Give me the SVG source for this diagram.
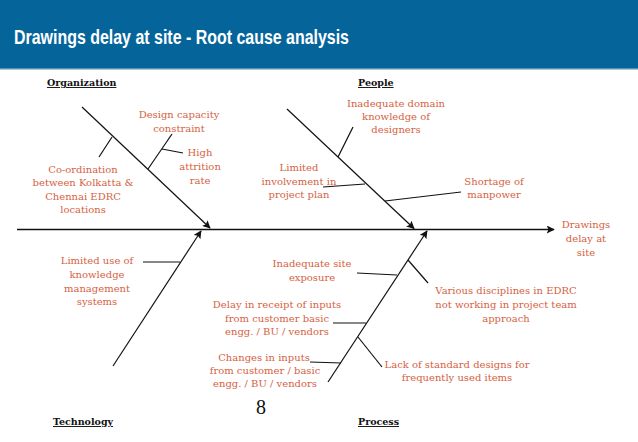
<svg xmlns="http://www.w3.org/2000/svg" width="638" height="442" viewBox="0 0 638 442">
<style>
.t{font-family:"DejaVu Serif","Liberation Serif",serif;font-size:10px;fill:#D5623F;text-anchor:middle}
.h{font-family:"DejaVu Serif","Liberation Serif",serif;font-size:9.5px;font-weight:bold;fill:#111;text-decoration:underline}
.l{stroke:#111;stroke-width:1.2;fill:none}
.a{stroke:#111;stroke-width:1.2;fill:none;marker-end:url(#ar)}
</style>
<defs>
<marker id="ar" viewBox="0 0 10 10" refX="9" refY="5" markerWidth="9" markerHeight="8" markerUnits="userSpaceOnUse" orient="auto">
<path d="M0,0 L10,5 L0,10 L2,5 Z" fill="#111"/>
</marker>
</defs>
<rect width="638" height="442" fill="#fff"/>
<g id="header">
<rect x="0" y="0" width="638" height="68" fill="#05659B"/>
<rect x="0" y="68" width="638" height="1.5" fill="#5A8FB5"/>
<text x="14" y="44" font-family="Liberation Sans,Arial,sans-serif" font-size="20.5" font-weight="bold" fill="#fff" textLength="335" lengthAdjust="spacingAndGlyphs">Drawings delay at site - Root cause analysis</text>
</g>
<g id="connectors">
<line class="a" x1="17" y1="229.5" x2="554" y2="229.5" style="stroke-width:1.5"/>
<line class="a" x1="82" y1="107" x2="210" y2="228"/>
<line class="a" x1="287" y1="109" x2="414" y2="228.5"/>
<line class="a" x1="113" y1="366" x2="201" y2="231"/>
<line class="a" x1="328" y1="382" x2="427" y2="231"/>
<line class="l" x1="112" y1="137" x2="99" y2="157"/>
<line class="l" x1="148" y1="169" x2="172" y2="134"/>
<line class="l" x1="162" y1="149" x2="183" y2="153"/>
<line class="l" x1="338" y1="157" x2="353" y2="127"/>
<line class="l" x1="365" y1="184" x2="323" y2="187"/>
<line class="l" x1="385" y1="201" x2="461" y2="192"/>
<line class="l" x1="143" y1="262" x2="180" y2="262"/>
<line class="l" x1="357" y1="273" x2="397" y2="275"/>
<line class="l" x1="408" y1="260" x2="428" y2="283"/>
<line class="l" x1="333" y1="323" x2="366" y2="323"/>
<line class="l" x1="358" y1="337" x2="382" y2="367"/>
<line class="l" x1="310" y1="362" x2="341" y2="363"/>
</g>
<g id="cat-organization"><text class="h" x="47" y="86">Organization</text></g>
<g id="cat-people"><text class="h" x="358" y="86">People</text></g>
<g id="cat-technology"><text class="h" x="53" y="425">Technology</text></g>
<g id="cat-process"><text class="h" x="358" y="425">Process</text></g>
<g id="effect"><text class="t" x="586"><tspan x="586" y="228">Drawings</tspan><tspan x="586" y="242">delay at</tspan><tspan x="586" y="256">site</tspan></text></g>
<g id="design-capacity"><text class="t"><tspan x="179" y="118">Design capacity</tspan><tspan x="179" y="132">constraint</tspan></text></g>
<g id="attrition"><text class="t"><tspan x="200" y="156">High</tspan><tspan x="200" y="170">attrition</tspan><tspan x="200" y="184">rate</tspan></text></g>
<g id="coordination"><text class="t"><tspan x="83" y="173">Co-ordination</tspan><tspan x="83" y="186">between Kolkatta &amp;</tspan><tspan x="83" y="200">Chennai EDRC</tspan><tspan x="83" y="213">locations</tspan></text></g>
<g id="limited-involvement"><text class="t"><tspan x="299" y="171">Limited</tspan><tspan x="299" y="185">involvement in</tspan><tspan x="299" y="198">project plan</tspan></text></g>
<g id="domain-knowledge"><text class="t"><tspan x="396" y="107">Inadequate domain</tspan><tspan x="396" y="120">knowledge of</tspan><tspan x="396" y="133">designers</tspan></text></g>
<g id="manpower"><text class="t"><tspan x="494" y="185">Shortage of</tspan><tspan x="494" y="198">manpower</tspan></text></g>
<g id="knowledge-mgmt"><text class="t"><tspan x="97" y="264">Limited use of</tspan><tspan x="97" y="278">knowledge</tspan><tspan x="97" y="292">management</tspan><tspan x="97" y="305">systems</tspan></text></g>
<g id="site-exposure"><text class="t"><tspan x="312" y="267">Inadequate site</tspan><tspan x="312" y="281">exposure</tspan></text></g>
<g id="disciplines"><text class="t"><tspan x="506" y="294">Various disciplines in EDRC</tspan><tspan x="506" y="308">not working in project team</tspan><tspan x="506" y="322">approach</tspan></text></g>
<g id="delay-inputs"><text class="t"><tspan x="277" y="308">Delay in receipt of inputs</tspan><tspan x="277" y="322">from customer basic</tspan><tspan x="277" y="335">engg. / BU / vendors</tspan></text></g>
<g id="changes-inputs"><text class="t"><tspan x="264" y="361">Changes in inputs</tspan><tspan x="265" y="374">from customer / basic</tspan><tspan x="265" y="387">engg. / BU / vendors</tspan></text></g>
<g id="standard-designs"><text class="t"><tspan x="457" y="368">Lack of standard designs for</tspan><tspan x="457" y="381">frequently used items</tspan></text></g>
<g id="page-number"><text x="261" y="414" font-family="Liberation Serif,serif" font-size="20" fill="#111" text-anchor="middle">8</text></g>
</svg>
